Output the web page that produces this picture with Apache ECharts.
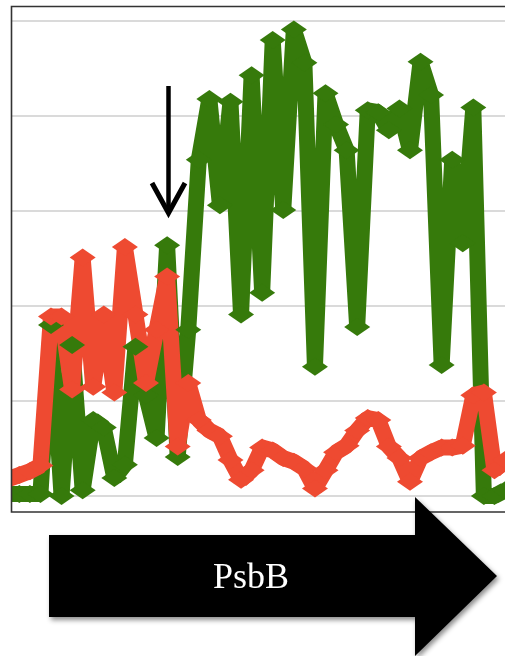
<!DOCTYPE html>
<html>
<head>
<meta charset="utf-8">
<script src="https://cdn.jsdelivr.net/npm/echarts@6/dist/echarts.min.js"></script>
<style>
html,body{margin:0;padding:0;background:#fff;}
#c{width:505px;height:656px;}
</style>
</head>
<body>
<div id="c"></div>
<script>
// position index along the gene (evenly spaced samples)
const green = [0.02,0.02,0.02,0.02,1.80,0.00,1.59,0.06,0.80,0.72,
               0.19,0.33,1.57,1.06,0.61,2.64,0.41,1.75,3.54,4.18,
               3.06,4.15,1.91,4.43,2.14,4.80,3.01,4.91,4.56,1.36,
               4.24,3.91,3.64,1.78,4.06,4.04,3.85,4.08,3.64,4.57,
               4.22,1.38,3.54,2.66,4.09,0.00,0.00,0.06];
const red   = [0.18,0.22,0.26,0.32,1.89,1.89,1.12,2.51,1.15,1.91,
               1.09,2.62,1.91,1.19,1.75,2.31,0.52,1.19,0.80,0.69,
               0.63,0.38,0.17,0.27,0.51,0.48,0.40,0.36,0.29,0.08,
               0.27,0.46,0.53,0.69,0.82,0.80,0.52,0.40,0.15,0.40,
               0.46,0.51,0.51,0.53,1.06,1.09,0.27,0.38];
const yTicks = [0,1,2,3,4,5];
const geneLabel = 'PsbB';

const chart = echarts.init(document.getElementById('c'), null, {renderer:'canvas'});
const toPairs = arr => arr.map((v,i)=>[i,v]);
const lineSeries = (data, color) => ({
  type:'line', data: toPairs(data), clip:false, animation:false,
  symbol:'diamond', symbolSize:[26,18],
  itemStyle:{color:color},
  lineStyle:{color:color, width:16, join:'bevel'}
});
chart.setOption({
  backgroundColor:'#ffffff',
  animation:false,
  grid:{left:12, right:-6.6, top:21, bottom:160},
  xAxis:{type:'value', min:0.308, max:47, show:false},
  yAxis:{type:'value', min:yTicks[0], max:yTicks[yTicks.length-1], interval:1,
    axisLine:{show:false}, axisTick:{show:false}, axisLabel:{show:false},
    splitLine:{show:true, lineStyle:{color:'#dadada', width:2}}},
  series:[ lineSeries(green,'#367a0b'), lineSeries(red,'#ee4a31') ],
  graphic:[
    {type:'rect', z:100, shape:{x:0,y:0,width:11,height:656}, style:{fill:'#fff'}},
    {type:'rect', z:101, shape:{x:11.5,y:6.5,width:600,height:505.5}, style:{fill:null, stroke:'#333', lineWidth:1.6}},
    {type:'line', z:102, shape:{x1:168.5,y1:86,x2:168.5,y2:210}, style:{stroke:'#000', lineWidth:4.5}},
    {type:'polyline', z:102, shape:{points:[[152,183],[168.5,213],[185,183]]}, style:{stroke:'#000', lineWidth:5, fill:null}},
    {type:'polygon', z:103, shape:{points:[[49,535],[415,535],[415,497],[497,576],[415,656],[415,617],[49,617]]},
      style:{fill:'#000', shadowBlur:5, shadowOffsetX:2, shadowOffsetY:3, shadowColor:'rgba(0,0,0,0.45)'}},
    {type:'text', z:104, x:251, y:579, style:{text:geneLabel, fill:'#fff', font:'36px "Liberation Serif"', align:'center', verticalAlign:'middle'}}
  ]
});
</script>
</body>
</html>
